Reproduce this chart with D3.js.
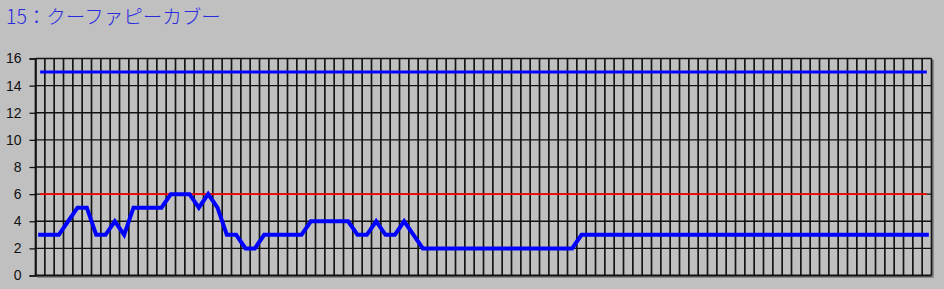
<!DOCTYPE html>
<html>
<head>
<meta charset="utf-8">
<script src="https://cdn.jsdelivr.net/npm/d3@7"></script>
<style>
  html, body { margin: 0; padding: 0; background: #c0c0c0; }
  svg { display: block; }
</style>
</head>
<body>
<div id="chart"></div>
<script>
// chart title
const title = "15：クーファピーカブー";

// 96 time slots on the x axis (no labels shown)
const slots = d3.range(1, 97);

// main series, one value per slot
const values = [
  3, 3, 3, 4, 5, 5, 3, 3, 4, 3,
  5, 5, 5, 5, 6, 6, 6, 5, 6, 5,
  3, 3, 2, 2, 3, 3, 3, 3, 3, 4,
  4, 4, 4, 4, 3, 3, 4, 3, 3, 4,
  3, 2, 2, 2, 2, 2, 2, 2, 2, 2,
  2, 2, 2, 2, 2, 2, 2, 2, 3, 3,
  3, 3, 3, 3, 3, 3, 3, 3, 3, 3,
  3, 3, 3, 3, 3, 3, 3, 3, 3, 3,
  3, 3, 3, 3, 3, 3, 3, 3, 3, 3,
  3, 3, 3, 3, 3, 3
];

// reference levels
const upperLevel = 15;
const redLevel = 6;

// y axis ticks
const yTicks = [0, 2, 4, 6, 8, 10, 12, 14, 16];

const W = 944, H = 289;
const margin = {top: 58.5, right: 12.5, bottom: 13.5, left: 35.5};
const width = W - margin.left - margin.right;
const height = H - margin.top - margin.bottom;

const svg = d3.select('#chart').append('svg')
  .attr('width', W)
  .attr('height', H);

svg.append('rect')
  .attr('width', W).attr('height', H)
  .attr('fill', '#c0c0c0');

svg.append('text')
  .attr('x', 6)
  .attr('y', 24)
  .attr('fill', '#2a2ae0')
  .style('font-family', '"Noto Sans CJK JP", "Noto Sans", sans-serif')
  .style('font-size', '19.5px')
  .style('font-weight', 300)
  .text(title);

const g = svg.append('g')
  .attr('transform', 'translate(' + margin.left + ',' + margin.top + ')');

const x = d3.scaleBand()
  .domain(slots)
  .range([0, width])
  .padding(0);

const y = d3.scaleLinear()
  .domain([0, 16])
  .range([height, 0]);

const cx = d => x(d) + x.bandwidth() / 2;

// drop shadow of the plot frame
g.append('path')
  .attr('d', 'M' + (width + 1.5) + ',1.5V' + (height + 1.5) + 'H1.5')
  .attr('fill', 'none')
  .attr('stroke', '#7a7a7a')
  .attr('stroke-width', 1.5);

// vertical grid lines at slot boundaries
g.append('g')
  .selectAll('line')
  .data(slots.concat(['end']))
  .enter()
  .append('line')
    .attr('x1', d => d === 'end' ? width : x(d))
    .attr('x2', d => d === 'end' ? width : x(d))
    .attr('y1', 0)
    .attr('y2', height)
    .attr('stroke', '#151515')
    .attr('stroke-width', 1.7);

// y axis with ticks running across as horizontal grid
const yAxis = d3.axisLeft(y)
  .tickValues(yTicks)
  .tickSize(6)
  .tickPadding(8);

const ya = g.append('g')
  .call(yAxis)
  .style('font-family', '"Liberation Sans", Arial, sans-serif')
  .style('font-size', '14px');
ya.select('.domain').attr('stroke', '#111').attr('stroke-width', 1.5);
ya.selectAll('.tick line').attr('stroke', '#111').attr('stroke-width', 1.3);
ya.selectAll('.tick text').attr('fill', '#111');

g.append('g')
  .selectAll('line')
  .data(yTicks)
  .enter()
  .append('line')
    .attr('x1', 0)
    .attr('x2', width)
    .attr('y1', d => y(d))
    .attr('y2', d => y(d))
    .attr('stroke', '#111')
    .attr('stroke-width', d => d === 0 ? 2 : 1.3);

// red reference line
g.append('path')
  .datum(slots)
  .attr('fill', 'none')
  .attr('stroke', '#ff0000')
  .attr('stroke-width', 1.6)
  .attr('d', d3.line().x(cx).y(() => y(redLevel)));

// blue upper level
g.append('path')
  .datum(slots)
  .attr('fill', 'none')
  .attr('stroke', '#0000ff')
  .attr('stroke-width', 3)
  .attr('d', d3.line().x(cx).y(() => y(upperLevel)));

// main series
g.append('path')
  .datum(values)
  .attr('fill', 'none')
  .attr('stroke', '#0000ff')
  .attr('stroke-width', 4)
  .attr('stroke-linecap', 'square')
  .attr('stroke-linejoin', 'miter')
  .attr('d', d3.line()
    .x((d, i) => cx(slots[i]))
    .y(d => y(d)));
</script>
</body>
</html>
